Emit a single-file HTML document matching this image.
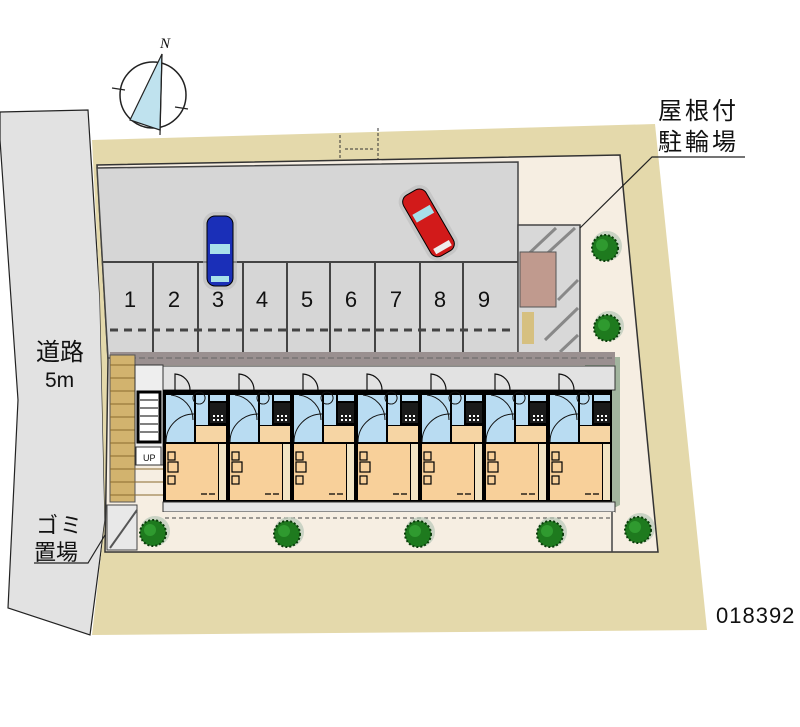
<!DOCTYPE html>
<html><head><meta charset="utf-8"><style>
html,body{margin:0;padding:0;background:#fff;}
svg{display:block}
.t{font-family:"Liberation Sans","Noto Sans CJK JP",sans-serif;fill:#111}
</style></head><body>
<svg width="800" height="727" viewBox="0 0 800 727" xmlns="http://www.w3.org/2000/svg">
<defs>
<g id="unit">
  <rect x="0" y="0" width="65" height="112" fill="#000"/>
  <rect x="3" y="5" width="28" height="47" fill="#b9dcf2"/>
  <rect x="33" y="5" width="12" height="30" fill="#b9dcf2"/>
  <rect x="47" y="5" width="16" height="6" fill="#b9dcf2"/>
  <rect x="47" y="13" width="16" height="20" fill="#1a1a1a"/>
  <g fill="#fff"><rect x="50" y="25" width="2" height="2"/><rect x="54" y="25" width="2" height="2"/><rect x="58" y="25" width="2" height="2"/><rect x="50" y="29" width="2" height="2"/><rect x="54" y="29" width="2" height="2"/><rect x="58" y="29" width="2" height="2"/></g>
  <rect x="33" y="36" width="30" height="16" fill="#f6d5a4"/>
  <rect x="3" y="54" width="52" height="56" fill="#f8d09a"/>
  <rect x="56" y="54" width="7" height="56" fill="#f2e4c4"/>
  <rect x="5" y="62" width="7" height="8" fill="#f8d09a" stroke="#000" stroke-width="1.2"/>
  <rect x="5" y="72" width="10" height="10" fill="#f8d09a" stroke="#000" stroke-width="1.2"/>
  <rect x="5" y="86" width="7" height="8" fill="#f8d09a" stroke="#000" stroke-width="1.2"/>
  <path d="M8 5 A25 25 0 0 1 30 30 M36 14 a6 6 0 1 1 0.1 0 M3 52 A28 28 0 0 1 31 24" fill="none" stroke="#111" stroke-width="1"/>
  <path d="M38 104 h6 M46 104 h6" stroke="#000" stroke-width="1.2"/>
</g>
<g id="tree">
  <circle cx="2" cy="-2" r="15" fill="#b8c8b8" opacity=".7"/>
  <circle cx="0" cy="0" r="13" fill="#1e7a1e" stroke="#0b3d0b" stroke-width="2" stroke-dasharray="2 2"/>
  <circle cx="-3" cy="-3" r="6" fill="#2f9a2f"/>
</g>
</defs>

<path d="M0 112 L88 110 L100 300 L105 520 L90 635 L8 608 L18 400 L0 140 Z" fill="#e2e2e2" stroke="#222" stroke-width="1.2"/>
<path d="M92 140 L655 124 L707 630 L92 635 L105 520 L100 300 Z" fill="#e4d9ab"/>
<path d="M97 165 L620 155 L658 552 L105 552 L108 360 Z" fill="#f6eee2" stroke="#333" stroke-width="1.5"/>
<path d="M97 168 L518 162 L518 358 L108 358 Z" fill="#d6d6d6" stroke="#444" stroke-width="1.5"/>
<line x1="103" y1="262" x2="518" y2="262" stroke="#444" stroke-width="2"/>
<g stroke="#444" stroke-width="2">
<line x1="153" y1="262" x2="153" y2="355"/><line x1="198" y1="262" x2="198" y2="355"/><line x1="243" y1="262" x2="243" y2="355"/><line x1="287" y1="262" x2="287" y2="355"/><line x1="330" y1="262" x2="330" y2="355"/><line x1="375" y1="262" x2="375" y2="355"/><line x1="420" y1="262" x2="420" y2="355"/><line x1="463" y1="262" x2="463" y2="355"/>
</g>
<line x1="110" y1="330" x2="515" y2="330" stroke="#444" stroke-width="3" stroke-dasharray="8 6"/>
<g class="t" font-size="22" text-anchor="middle">
<text x="130" y="307">1</text><text x="174" y="307">2</text><text x="218" y="307">3</text><text x="262" y="307">4</text><text x="307" y="307">5</text><text x="351" y="307">6</text><text x="396" y="307">7</text><text x="440" y="307">8</text><text x="484" y="307">9</text>
</g>
<path d="M340 135 V160 M378 128 V160 M345 149 H375" stroke="#333" stroke-width="1" stroke-dasharray="3 2" fill="none"/>
<rect x="518" y="225" width="62" height="132" fill="#d8d8d8" stroke="#444" stroke-width="1.5"/>
<g stroke="#888" stroke-width="3">
<line x1="522" y1="260" x2="556" y2="228"/><line x1="540" y1="260" x2="575" y2="228"/><line x1="558" y1="300" x2="578" y2="280"/><line x1="545" y1="340" x2="578" y2="308"/><line x1="560" y1="352" x2="578" y2="335"/></g>
<rect x="520" y="252" width="36" height="55" fill="#c09a8e" stroke="#555"/>
<rect x="522" y="312" width="12" height="32" fill="#d6c080"/>
<path d="M585 357 H620 V505 L600 515 H585 Z" fill="#a2b59e"/>
<rect x="110" y="352" width="505" height="13" fill="#9a9090"/>
<line x1="112" y1="358" x2="612" y2="358" stroke="#666" stroke-dasharray="6 3"/>
<rect x="110" y="355" width="25" height="147" fill="#d2b36e" stroke="#555"/>
<g stroke="#8a6b2e" stroke-width="1"><line x1="110" y1="365" x2="135" y2="365"/><line x1="110" y1="378" x2="135" y2="378"/><line x1="110" y1="391" x2="135" y2="391"/><line x1="110" y1="404" x2="135" y2="404"/><line x1="110" y1="417" x2="135" y2="417"/><line x1="110" y1="430" x2="135" y2="430"/><line x1="110" y1="443" x2="135" y2="443"/><line x1="110" y1="456" x2="135" y2="456"/><line x1="110" y1="469" x2="165" y2="469"/><line x1="110" y1="482" x2="165" y2="482"/><line x1="110" y1="495" x2="165" y2="495"/></g>
<rect x="135" y="365" width="28" height="100" fill="#eee" stroke="#333"/>
<rect x="138" y="392" width="22" height="50" fill="#fff" stroke="#000" stroke-width="3"/>
<g stroke="#000"><line x1="140" y1="400" x2="158" y2="400"/><line x1="140" y1="408" x2="158" y2="408"/><line x1="140" y1="416" x2="158" y2="416"/><line x1="140" y1="424" x2="158" y2="424"/><line x1="140" y1="432" x2="158" y2="432"/></g>
<rect x="136" y="447" width="25" height="18" fill="#fff" stroke="#333"/>
<text class="t" x="143" y="461" font-size="9">UP</text>
<rect x="163" y="366" width="452" height="24" fill="#e2e2e2" stroke="#333"/>
<use href="#unit" x="163" y="390"/><use href="#unit" x="227" y="390"/><use href="#unit" x="291" y="390"/><use href="#unit" x="355" y="390"/><use href="#unit" x="419" y="390"/><use href="#unit" x="483" y="390"/><use href="#unit" x="547" y="390"/>
<g fill="none" stroke="#111" stroke-width="1.2">
<path d="M175 390 V374 A16 16 0 0 1 190 390"/><path d="M239 390 V374 A16 16 0 0 1 254 390"/><path d="M303 390 V374 A16 16 0 0 1 318 390"/><path d="M367 390 V374 A16 16 0 0 1 382 390"/><path d="M431 390 V374 A16 16 0 0 1 446 390"/><path d="M495 390 V374 A16 16 0 0 1 510 390"/><path d="M559 390 V374 A16 16 0 0 1 574 390"/>
</g>
<rect x="163" y="502" width="452" height="10" fill="#e6e6e6" stroke="#333"/>
<rect x="110" y="512" width="505" height="38" fill="#f6eee2"/>
<line x1="165" y1="518" x2="612" y2="518" stroke="#444" stroke-dasharray="4 3"/>
<line x1="612" y1="512" x2="612" y2="552" stroke="#444" stroke-width="1.5"/>
<rect x="107" y="505" width="30" height="45" fill="#e8e8e8" stroke="#444"/>
<line x1="110" y1="548" x2="137" y2="510" stroke="#555" stroke-width="2"/>
<use href="#tree" x="605" y="248"/><use href="#tree" x="607" y="328"/><use href="#tree" x="153" y="533"/><use href="#tree" x="287" y="534"/><use href="#tree" x="418" y="534"/><use href="#tree" x="550" y="534"/><use href="#tree" x="638" y="530"/>
<g transform="translate(220,250)">
<rect x="-17" y="-38" width="34" height="78" rx="12" fill="#bbb" opacity=".6"/>
<rect x="-13" y="-34" width="26" height="70" rx="8" fill="#1a2fb8" stroke="#000"/>
<rect x="-10" y="-6" width="20" height="10" fill="#a8e0ea"/>
<rect x="-9" y="26" width="18" height="6" fill="#a8e0ea"/>
</g>
<g transform="translate(428,222) rotate(-30)">
<rect x="-17" y="-38" width="34" height="78" rx="12" fill="#bbb" opacity=".6"/>
<rect x="-13" y="-34" width="26" height="70" rx="8" fill="#d21a1a" stroke="#000"/>
<rect x="-10" y="-14" width="20" height="9" fill="#a8e0ea"/>
<rect x="-9" y="26" width="18" height="6" fill="#eee"/>
</g>
<circle cx="153" cy="95" r="33" fill="none" stroke="#222" stroke-width="1.5"/>
<path d="M162 54 L130 120 L160 130 Z" fill="#bfe2ee" stroke="#222" stroke-width="1.2"/>
<path d="M162 54 L160 135 M112 88 L125 90 M175 107 L188 109" stroke="#222" stroke-width="1.2" fill="none"/>
<text x="160" y="48" font-family="Liberation Serif,serif" font-style="italic" font-size="15" fill="#111">N</text>
<text class="t" x="658" y="119" font-size="24" letter-spacing="3">屋根付</text>
<text class="t" x="658" y="150" font-size="24" letter-spacing="3">駐輪場</text>
<path d="M745 157 H652 L580 228" stroke="#222" stroke-width="1.2" fill="none"/>
<text class="t" x="36" y="360" font-size="24">道路</text>
<text class="t" x="45" y="387" font-size="21">5m</text>
<text class="t" x="36" y="533" font-size="22" letter-spacing="2">ゴミ</text>
<text class="t" x="34" y="560" font-size="22">置場</text>
<path d="M34 563 H88 L105 535" stroke="#222" stroke-width="1.2" fill="none"/>
<text class="t" x="716" y="623" font-size="22" letter-spacing="1">018392</text>
</svg>
</body></html>
